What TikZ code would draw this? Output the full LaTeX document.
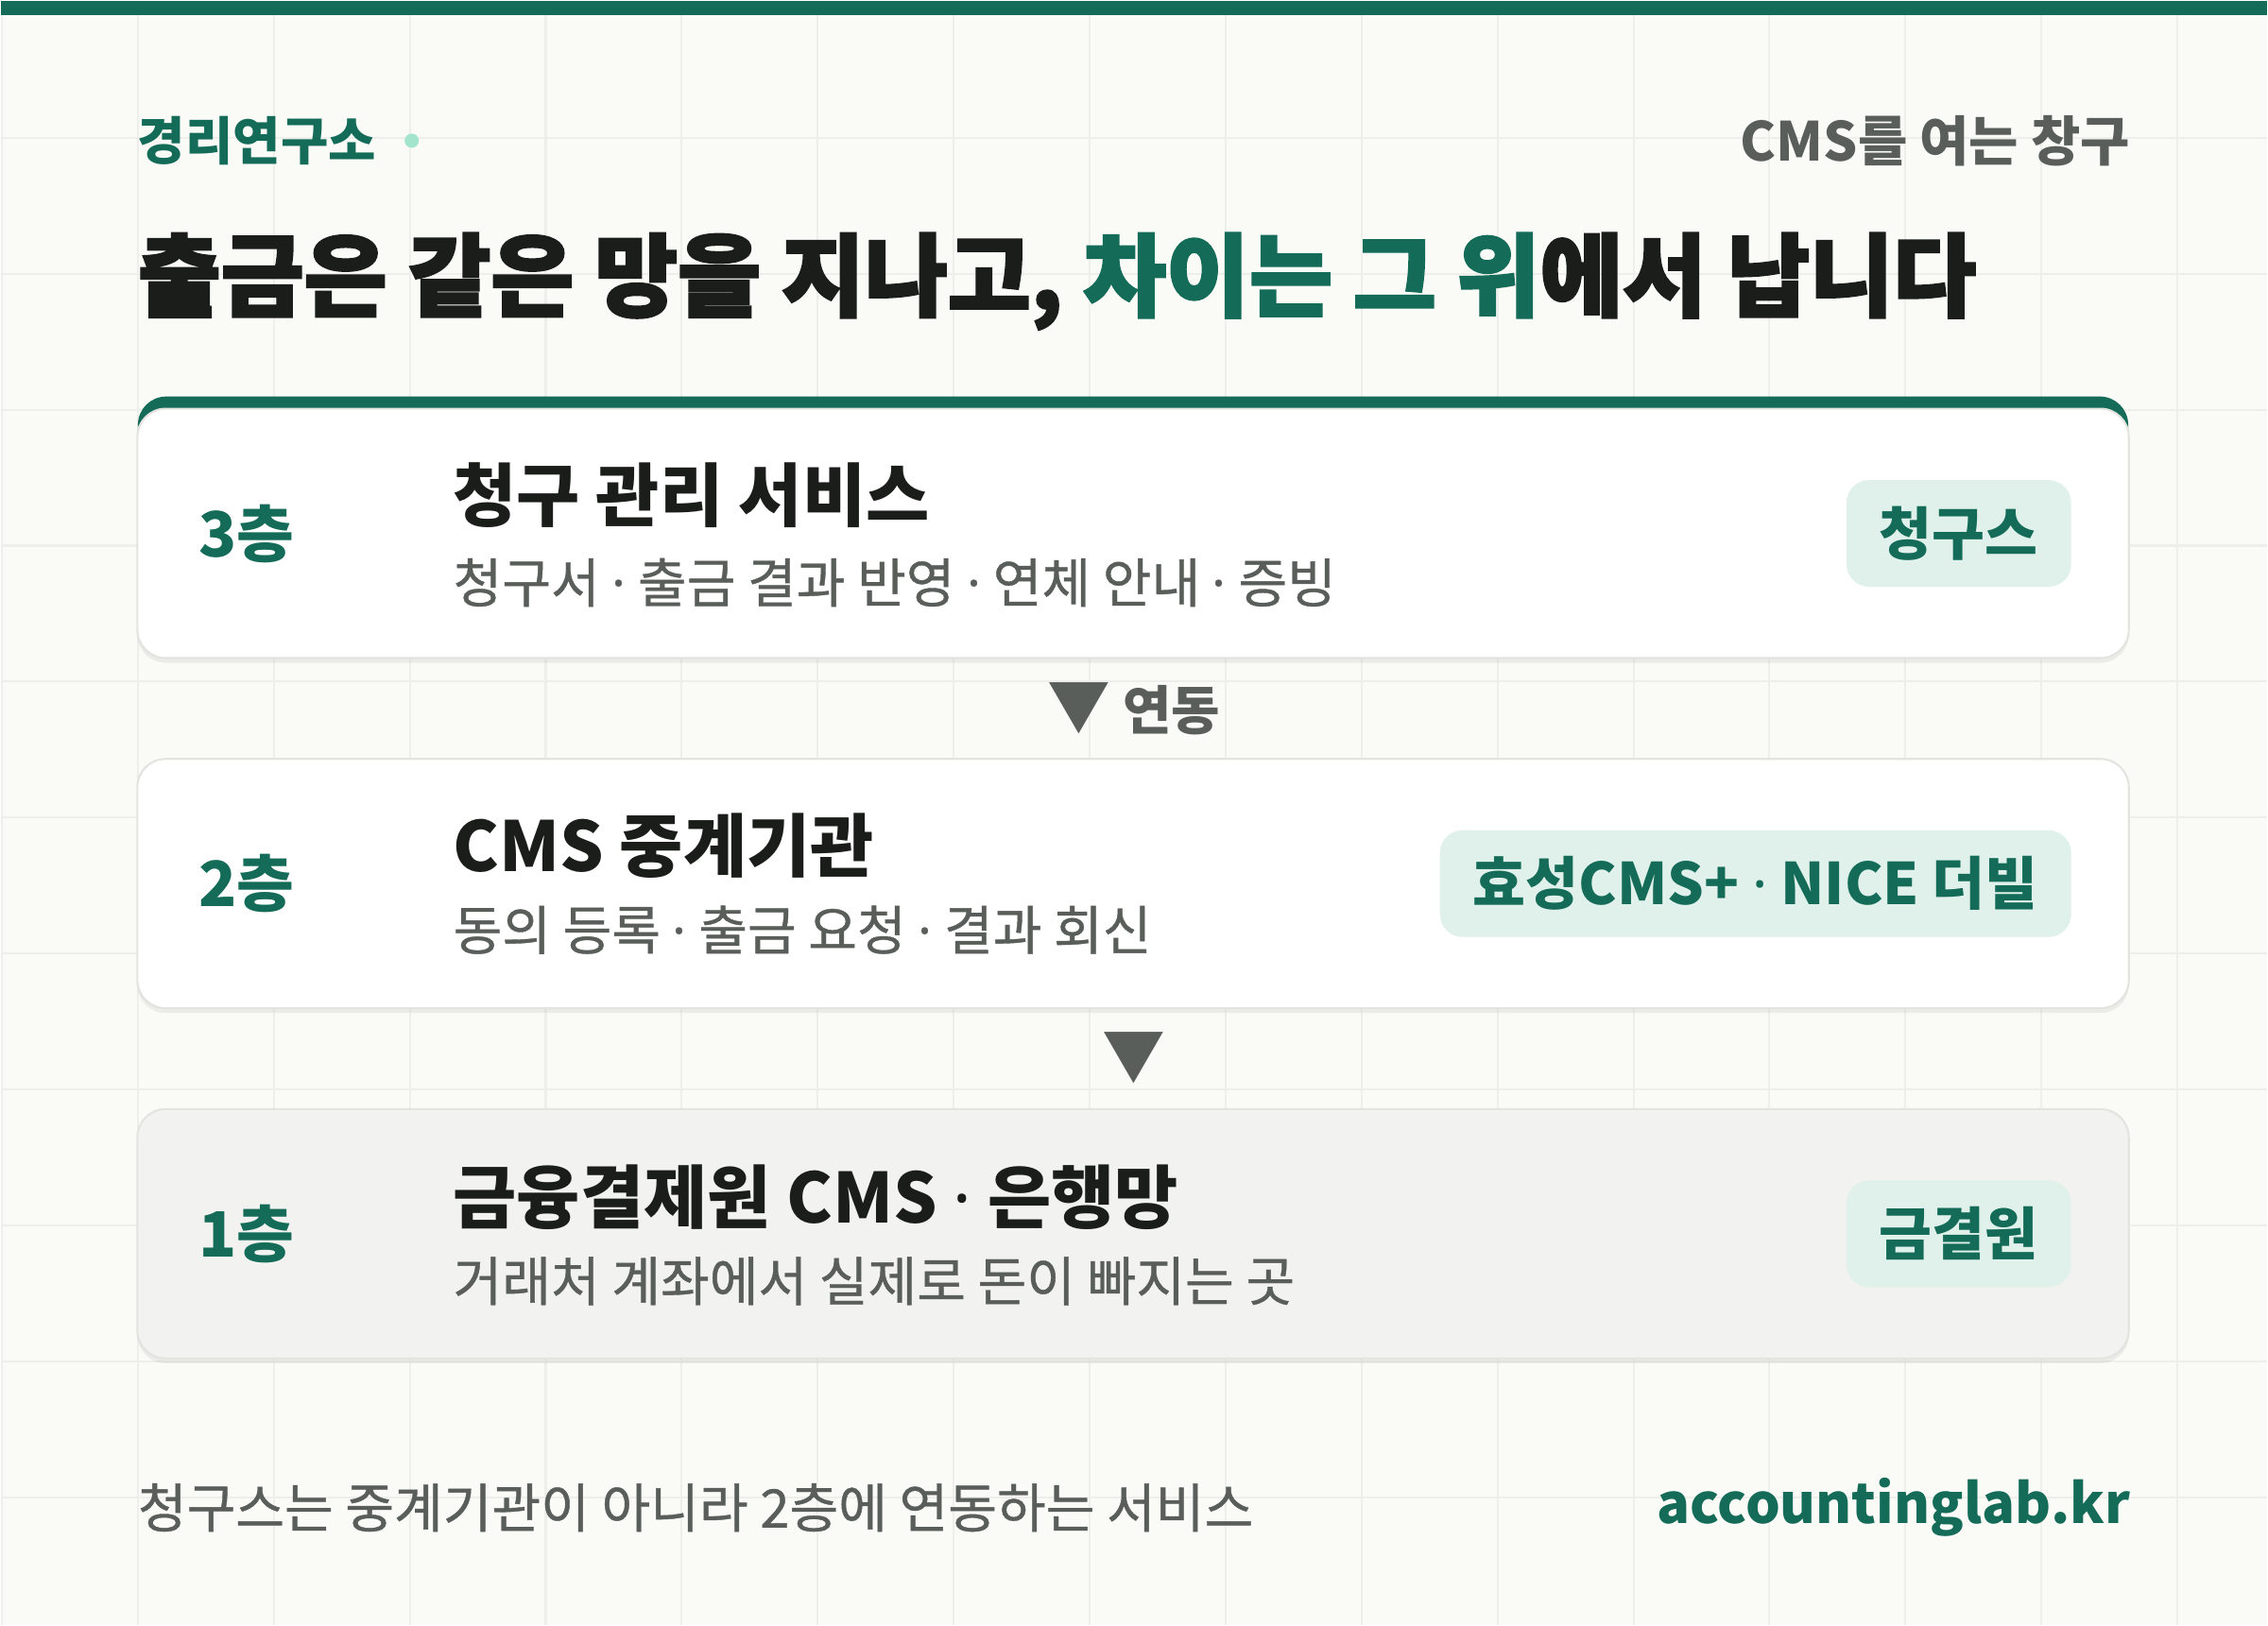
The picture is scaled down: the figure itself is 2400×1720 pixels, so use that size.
\documentclass[tikz,border=0pt]{standalone}
\usepackage{fontspec}
\setmainfont{Noto Sans CJK KR}
\newfontfamily\heavyfont{Noto Sans CJK KR}[BoldFeatures={FakeBold=2.5}]
\newfontfamily\medfont{Noto Sans CJK KR}[UprightFeatures={FakeBold=0.7}]
\newfontfamily\latinfont{Noto Sans}
\newcommand{\sep}{{\latinfont ·}}
\usetikzlibrary{positioning,shadows}

\definecolor{brand}{HTML}{136B58}
\definecolor{mint}{HTML}{A3E4CD}
\definecolor{badgebg}{HTML}{E0F0EA}
\definecolor{ink}{HTML}{1B1D1B}
\definecolor{muted}{HTML}{5A5E5B}
\definecolor{paper}{HTML}{FAFAF7}
\definecolor{gridline}{HTML}{EEEEEA}
\definecolor{cardline}{HTML}{E3E3DF}
\definecolor{basecard}{HTML}{F2F2F0}

\begin{document}
\begin{tikzpicture}[x=0.01cm,y=-0.01cm,
    every node/.style={inner sep=0pt,outer sep=0pt},
    card/.style={draw=cardline,line width=0.6pt,rounded corners=0.3cm,
      minimum width=21.08cm,minimum height=2.64cm,
      drop shadow={shadow xshift=0cm,shadow yshift=-0.05cm,opacity=0.06,fill=black}},
    layer/.style={anchor=west,text=brand,font=\fontsize{18.8}{20}\selectfont\bfseries},
    head/.style={anchor=west,text=ink,font=\fontsize{20.8}{22}\selectfont\bfseries},
    sub/.style={anchor=west,text=muted,font=\fontsize{16}{18}\medfont},
    badge/.style={anchor=east,fill=badgebg,text=brand,rounded corners=0.24cm,
      minimum height=1.13cm,inner xsep=0.35cm,font=\fontsize{17.3}{19}\selectfont\bfseries},
    flow/.style={text=muted,font=\fontsize{15.9}{17}\selectfont\bfseries}]

    % background and grid
    \fill[paper] (0,0) rectangle (2400,1720);
    \foreach \gx in {1,145,...,2400}
        \draw[gridline,line width=0.6pt] (\gx,0) -- (\gx,1720);
    \foreach \gy in {1,145,...,1720}
        \draw[gridline,line width=0.6pt] (0,\gy) -- (2400,\gy);
    \fill[brand] (0,0) rectangle (2400,15);

    % header
    \node[anchor=west,text=brand,font=\fontsize{15.6}{17}\selectfont\bfseries] (lab) at (145,148) {경리연구소};
    \node[circle,fill=mint,minimum size=0.15cm] (dot) at (435,148) {};
    \node[anchor=east,text=muted,font=\fontsize{16.2}{18}\selectfont\bfseries] (tag) at (2255,148) {CMS를 여는 창구};
    \node[anchor=west,text=ink,font=\fontsize{27.2}{30}\heavyfont\bfseries] (title) at (145,297)
        {출금은 같은 망을 지나고, {\color{brand}차이는 그 위}에서 납니다};

    % layers
    \fill[brand,rounded corners=0.3cm] (145,419) rectangle (2253,560);
    \node[card,fill=white] (l3) at (1199,564) {};
    \node[card,fill=white] (l2) at (1199,935) {};
    \node[card,fill=basecard] (l1) at (1199,1306) {};

    \node[layer,right=0.65cm of l3.west] (n3) {3층};
    \node[head] (h3) at (479,524) {청구 관리 서비스};
    \node[sub] (s3) at (479,616) {청구서 \sep{} 출금 결과 반영 \sep{} 연체 안내 \sep{} 증빙};
    \node[badge,left=0.61cm of l3.east] (b3) {청구스};

    \node[layer,right=0.65cm of l2.west] (n2) {2층};
    \node[head] (h2) at (479,895) {CMS 중계기관};
    \node[sub] (s2) at (479,984) {동의 등록 \sep{} 출금 요청 \sep{} 결과 회신};
    \node[badge,left=0.61cm of l2.east] (b2) {효성CMS+ \sep{} NICE 더빌};

    \node[layer,right=0.65cm of l1.west] (n1) {1층};
    \node[head] (h1) at (479,1267) {금융결제원 CMS \sep{} 은행망};
    \node[sub] (s1) at (479,1356) {거래처 계좌에서 실제로 돈이 빠지는 곳};
    \node[badge,left=0.61cm of l1.east] (b1) {금결원};

    % links between layers
    \node[flow] (link) at (1200,750) {{\fontsize{19}{20}\selectfont ▼} 연동};
    \node[flow,font=\fontsize{19}{20}\selectfont] (down) at (1200,1120) {▼};

    % footer
    \node[anchor=west,text=muted,font=\fontsize{16}{18}\medfont] (note) at (145,1596) {청구스는 중계기관이 아니라 2층에 연동하는 서비스};
    \node[anchor=east,text=brand,font=\fontsize{16.5}{18}\selectfont\bfseries] (site) at (2255,1596) {accountinglab.kr};
\end{tikzpicture}
\end{document}
